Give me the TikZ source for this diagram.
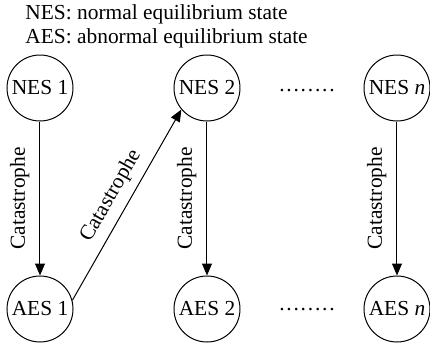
\documentclass[tikz,border=0pt]{standalone}
\usepackage{fontspec}
\setmainfont{Liberation Serif}
\usetikzlibrary{arrows.meta}
\tikzset{
  st/.style={draw, circle, line width=0.5pt, minimum size=33pt, inner sep=0pt, font=\fontsize{10.7}{12}\selectfont},
  lbl/.style={font=\fontsize{10.7}{12}\selectfont, inner sep=0pt},
  arr/.style={line width=0.5pt, -{Triangle[length=6pt,width=5pt]}},
  plain/.style={line width=0.5pt}
}
\newcommand{\dotrow}{.\kern0.9pt.\kern0.9pt.\kern0.9pt.\kern0.9pt.\kern0.9pt.\kern0.9pt.\kern0.9pt.}
\begin{document}
\begin{tikzpicture}[x=0.5pt,y=-0.5pt]
\useasboundingbox (0,0) rectangle (430,344);
\node[lbl, anchor=base west] (t1) at (25,19) {NES: normal equilibrium state};
\node[lbl, anchor=base west] (t2) at (25,43) {AES: abnormal equilibrium state};
\node[st] (n1) at (40,88) {NES 1};
\node[st] (n2) at (207,88) {NES 2};
\node[st] (nn) at (397,88) {NES \textit{n}};
\node[st] (a1) at (40,309) {AES 1};
\node[st] (a2) at (207,309) {AES 2};
\node[st] (an) at (397,309) {AES \textit{n}};
\node[lbl] (d1) at (307,91) {\dotrow};
\node[lbl] (d2) at (307,310) {\dotrow};
\draw[arr] (n1) -- node[lbl, rotate=90, above=5pt] {Catastrophe} (a1);
\draw[arr] (n2) -- node[lbl, rotate=90, above=5pt] {Catastrophe} (a2);
\draw[arr] (nn) -- node[lbl, rotate=90, above=5pt] {Catastrophe} (an);
\draw[arr] (a1.15) -- node[lbl, sloped, above=4pt] {Catastrophe} (n2.220);
\end{tikzpicture}
\end{document}
